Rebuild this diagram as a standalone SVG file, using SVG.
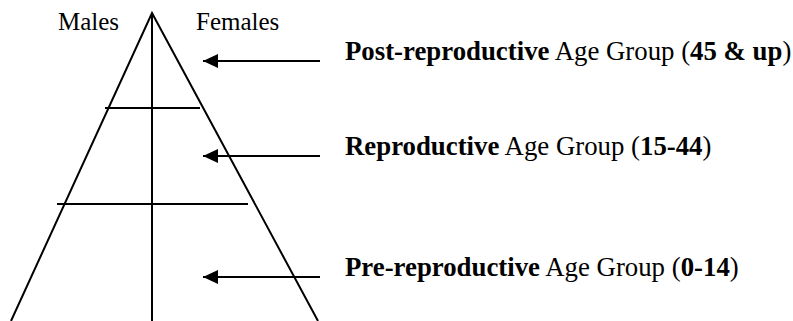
<svg xmlns="http://www.w3.org/2000/svg" width="793" height="321" viewBox="0 0 793 321">
<style>
.ln{stroke:#000;stroke-width:2;fill:none}
.t{font-family:"Liberation Serif","Times New Roman",serif;font-size:26.8px;fill:#000}
.s{font-size:25px}
.b{font-weight:bold}
</style>
<defs>
<marker id="ah" markerWidth="8" markerHeight="8" refX="7.5" refY="4" orient="auto" markerUnits="strokeWidth">
<path d="M0,0.5 L7.5,4 L0,7.5 Z" fill="#000"/>
</marker>
</defs>
<rect width="793" height="321" fill="#fff"/>
<g id="pyramid">
<path class="ln" d="M11,321 L152,13 L318,321"/>
<line class="ln" x1="152" y1="13" x2="152" y2="321"/>
<line class="ln" x1="105" y1="108" x2="200" y2="108"/>
<line class="ln" x1="57" y1="204" x2="248" y2="204"/>
</g>
<g id="labels">
<text class="t s" x="58" y="30">Males</text>
<text class="t s" x="196" y="30">Females</text>
</g>
<g id="connectors">
<line class="ln" x1="320" y1="61" x2="203" y2="61" marker-end="url(#ah)"/>
<line class="ln" x1="320" y1="156" x2="203" y2="156" marker-end="url(#ah)"/>
<line class="ln" x1="320" y1="277" x2="203" y2="277" marker-end="url(#ah)"/>
</g>
<g id="post">
<text class="t" x="345" y="60"><tspan class="b">Post-reproductive</tspan> Age Group (<tspan class="b">45 &amp; up</tspan>)</text>
</g>
<g id="repro">
<text class="t" x="345" y="155"><tspan class="b">Reproductive</tspan> Age Group (<tspan class="b">15-44</tspan>)</text>
</g>
<g id="pre">
<text class="t" x="345" y="276"><tspan class="b">Pre-reproductive</tspan> Age Group (<tspan class="b">0-14</tspan>)</text>
</g>
</svg>
